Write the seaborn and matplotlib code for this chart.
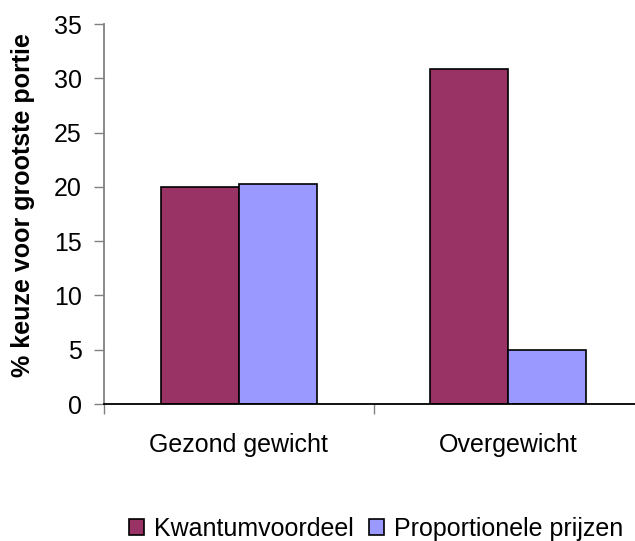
import pandas as pd
import seaborn as sns
import matplotlib.pyplot as plt

# data
groepen = ['Gezond gewicht', 'Overgewicht']
series = ['Kwantumvoordeel', 'Proportionele prijzen']
kwantum = [20.0, 30.9]
proportioneel = [20.3, 5.0]
kleuren = ['#993366', '#9999FF']

df = pd.DataFrame({
    'groep': groepen * 2,
    'conditie': [series[0]] * 2 + [series[1]] * 2,
    'waarde': kwantum + proportioneel,
})

sns.set_theme(style='white')
plt.rcParams['font.family'] = ['Liberation Sans', 'DejaVu Sans']
plt.rcParams['text.color'] = 'black'
plt.rcParams['axes.labelcolor'] = 'black'

fig = plt.figure(figsize=(6.35, 5.41), dpi=100)
ax = fig.add_axes([0.1638, 0.2532, 0.8488, 0.7024])

sns.barplot(data=df, x='groep', y='waarde', hue='conditie', palette=kleuren,
            width=0.58, gap=0, edgecolor='black', linewidth=1.2,
            saturation=1, ax=ax, legend=True)

ax.set_xlim(-0.5, 1.5)
ax.set_ylim(0, 35)
ax.set_yticks(range(0, 36, 5))
ax.tick_params(axis='y', labelsize=18, length=7, width=1, color='#808080',
               direction='out', left=True, pad=9, labelcolor='black')
ax.tick_params(axis='x', which='major', labelsize=18, length=0, pad=21,
               labelcolor='black')
ax.set_xticks([-0.5, 0.5, 1.5], minor=True)
ax.tick_params(axis='x', which='minor', length=7, width=1, color='#808080',
               direction='out', bottom=True)

ax.set_xlabel('')
ax.set_ylabel('% keuze voor grootste portie', fontsize=18, fontweight='bold',
              color='black')
ax.yaxis.set_label_coords(-0.128, 0.524)

for s in ['top', 'right']:
    ax.spines[s].set_visible(False)
ax.spines['left'].set_color('#808080')
ax.spines['left'].set_linewidth(1.3)
ax.spines['bottom'].set_color('black')
ax.spines['bottom'].set_linewidth(1.3)

handles, labels = ax.get_legend_handles_labels()
ax.get_legend().remove()
leg = fig.legend(handles, labels, loc='center', bbox_to_anchor=(0.592, 0.022),
                 ncol=2, frameon=False, fontsize=18, handlelength=0.6,
                 handleheight=0.6, handletextpad=0.4, columnspacing=0.6)
for t in leg.get_texts():
    t.set_color('black')

fig.savefig('out.png', dpi=100)
